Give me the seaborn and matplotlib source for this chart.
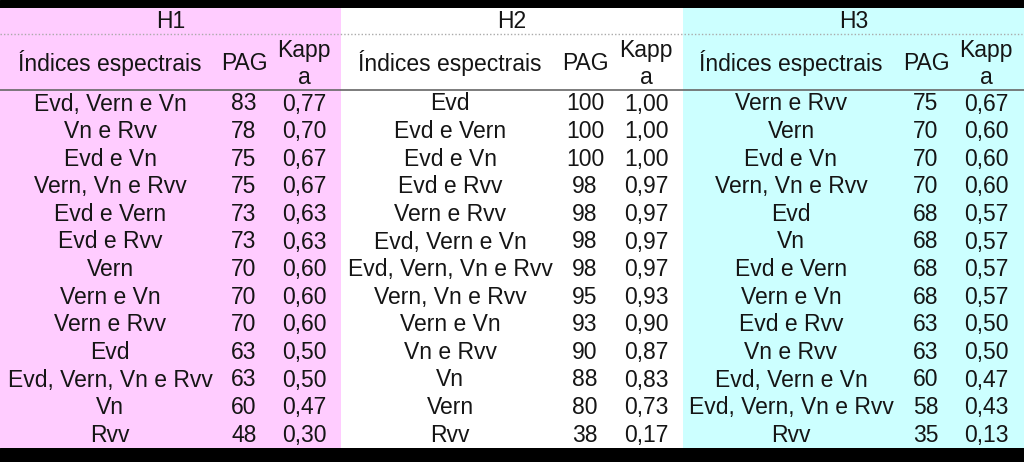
import matplotlib
matplotlib.use("Agg")
import matplotlib.pyplot as plt
import seaborn as sns

# data
groups = ["H1", "H2", "H3"]

h1_names = ["Evd, Vern e Vn", "Vn e Rvv", "Evd e Vn", "Vern, Vn e Rvv", "Evd e Vern",
            "Evd e Rvv", "Vern", "Vern e Vn", "Vern e Rvv", "Evd",
            "Evd, Vern, Vn e Rvv", "Vn", "Rvv"]
h1_pag = [83, 78, 75, 75, 73, 73, 70, 70, 70, 63, 63, 60, 48]
h1_kappa = [0.77, 0.70, 0.67, 0.67, 0.63, 0.63, 0.60, 0.60, 0.60, 0.50, 0.50, 0.47, 0.30]

h2_names = ["Evd", "Evd e Vern", "Evd e Vn", "Evd e Rvv", "Vern e Rvv", "Evd, Vern e Vn",
            "Evd, Vern, Vn e Rvv", "Vern, Vn e Rvv", "Vern e Vn", "Vn e Rvv", "Vn",
            "Vern", "Rvv"]
h2_pag = [100, 100, 100, 98, 98, 98, 98, 95, 93, 90, 88, 80, 38]
h2_kappa = [1.00, 1.00, 1.00, 0.97, 0.97, 0.97, 0.97, 0.93, 0.90, 0.87, 0.83, 0.73, 0.17]

h3_names = ["Vern e Rvv", "Vern", "Evd e Vn", "Vern, Vn e Rvv", "Evd", "Vn", "Evd e Vern",
            "Vern e Vn", "Evd e Rvv", "Vn e Rvv", "Evd, Vern e Vn",
            "Evd, Vern, Vn e Rvv", "Rvv"]
h3_pag = [75, 70, 70, 70, 68, 68, 68, 68, 63, 63, 60, 58, 35]
h3_kappa = [0.67, 0.60, 0.60, 0.60, 0.57, 0.57, 0.57, 0.57, 0.50, 0.50, 0.47, 0.43, 0.13]

sns.set_theme(style="white")
plt.rcParams['font.family'] = ['Liberation Sans', 'DejaVu Sans']

fig = plt.figure(figsize=(10.24, 4.62), dpi=100)
ax = fig.add_axes([0, 0, 1, 1])
ax.set_xlim(0, 1024)
ax.set_ylim(462, 0)
ax.axis('off')

# layout (pixel coords)
blocks = [(0, 341), (341, 683), (683, 1024)]
bg = ["#ffccff", "#ffffff", "#ccffff"]
name_x = [110, 450, 791]
pag_x = [244, 585, 926]
kap_x = [304, 646, 986]
row0, row_h = 104, 27.6
fs = 16.5
tc = "#151515"

ax.axhspan(0, 8, color="black", zorder=0)
ax.axhspan(448, 462, color="black", zorder=0)
for (x0, x1), c in zip(blocks, bg):
    ax.fill_between([x0, x1], 8, 448, color=c, lw=0, zorder=0)

ax.plot([0, 1022], [34, 34], color="#aaaaaa", lw=1, ls=(0, (1, 1.5)))
ax.plot([0, 1024], [90, 90], color="#666666", lw=1.2)

table = [(h1_names, h1_pag, h1_kappa), (h2_names, h2_pag, h2_kappa), (h3_names, h3_pag, h3_kappa)]
for b, (names, pag, kap) in enumerate(table):
    x0, x1 = blocks[b]
    ax.text((x0 + x1) / 2, 21, groups[b], ha="center", va="center", fontsize=fs, color=tc)
    ax.text(name_x[b], 63, "Índices espectrais", ha="center", va="center", fontsize=fs, color=tc)
    ax.text(pag_x[b], 63, "PAG", ha="center", va="center", fontsize=fs, color=tc)
    ax.text(kap_x[b], 50, "Kapp", ha="center", va="center", fontsize=fs, color=tc)
    ax.text(kap_x[b], 77, "a", ha="center", va="center", fontsize=fs, color=tc)
    for i, (n, p, k) in enumerate(zip(names, pag, kap)):
        y = row0 + i * row_h
        ax.text(name_x[b], y, n, ha="center", va="center", fontsize=fs, color=tc)
        ax.text(pag_x[b], y, str(p), ha="center", va="center", fontsize=fs, color=tc)
        ax.text(kap_x[b], y, f"{k:.2f}".replace(".", ","), ha="center", va="center", fontsize=fs, color=tc)

fig.savefig("out.png", dpi=100)
